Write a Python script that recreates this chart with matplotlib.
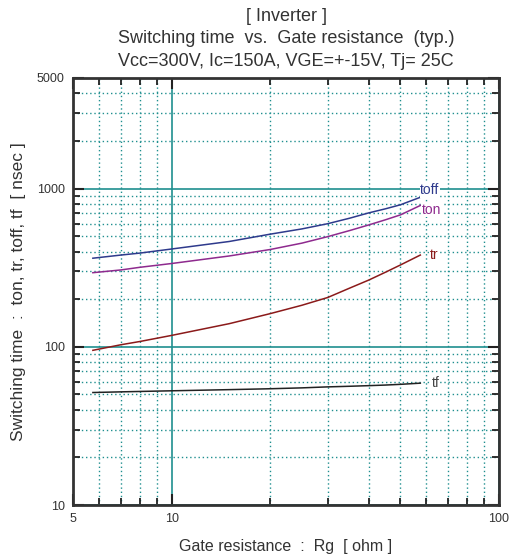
import matplotlib
matplotlib.use("Agg")
import matplotlib.pyplot as plt
from matplotlib.ticker import LogLocator, NullFormatter, FixedLocator, FixedFormatter

plt.rcParams['font.family'] = ['Liberation Sans', 'DejaVu Sans']

# gate resistance [ohm]
rg = [5.75, 7, 8, 10, 15, 20, 25, 30, 35, 40, 45, 50, 57.5]
# switching times [nsec]
toff = [363, 380, 391, 415, 463, 515, 556, 600, 650, 702, 745, 790, 881]
ton = [294, 306, 318, 336, 375, 412, 452, 497, 543, 589, 635, 682, 782]
tr = [95, 103, 108, 118, 140, 162, 183, 205, 235, 264, 296, 329, 380]
tf = [51.4, 51.9, 52.2, 52.7, 53.6, 54.3, 55.0, 55.8, 56.3, 56.8, 57.3, 57.9, 58.9]

series = [
    ("toff", toff, "#2e3a8c", (0, 5)),
    ("ton", ton, "#8e2a8e", (1, -3)),
    ("tr", tr, "#8b1a1a", (7, 0)),
    ("tf", tf, "#222222", (8, 0)),
]
label_colors = {"toff": "#2e3a8c", "ton": "#8e2a8e", "tr": "#8b1a1a", "tf": "#444444"}

fig = plt.figure(figsize=(5.1, 5.56), dpi=100)
ax = fig.add_axes([73 / 510, 1 - 505 / 556, 426 / 510, 427 / 556])
ax.set_xscale("log")
ax.set_yscale("log")
ax.set_xlim(5, 100)
ax.set_ylim(10, 5000)

teal = "#1f8f8f"
ax.xaxis.set_major_locator(FixedLocator([5, 10, 100]))
ax.xaxis.set_major_formatter(FixedFormatter(["5", "10", "100"]))
ax.xaxis.set_minor_locator(LogLocator(base=10, subs=range(2, 10)))
ax.xaxis.set_minor_formatter(NullFormatter())
ax.yaxis.set_major_locator(FixedLocator([10, 100, 1000, 5000]))
ax.yaxis.set_major_formatter(FixedFormatter(["10", "100", "1000", "5000"]))
ax.yaxis.set_minor_locator(LogLocator(base=10, subs=range(2, 10)))
ax.yaxis.set_minor_formatter(NullFormatter())

ax.grid(which="minor", color=teal, linestyle=(0, (1, 2)), linewidth=1.0)
ax.grid(which="major", color=teal, linestyle="-", linewidth=1.2)
ax.set_axisbelow(True)

ax.tick_params(which="both", direction="in", top=True, right=True,
               color="#222222", labelsize=9, labelcolor="#333333")
ax.tick_params(which="major", length=8, width=1.5, pad=6)
ax.tick_params(which="minor", length=5, width=1.3)
for sp in ax.spines.values():
    sp.set_linewidth(2)
    sp.set_color("#333333")

for name, vals, color, off in series:
    ax.plot(rg, vals, color=color, linewidth=1.1)
    ax.annotate(name, xy=(rg[-1], vals[-1]), xytext=off, textcoords="offset points",
                ha="left", va="center", fontsize=10, color=label_colors[name],
                bbox=dict(facecolor="white", edgecolor="none", pad=0.5))

ax.set_xlabel("Gate resistance  :  Rg  [ ohm ]", fontsize=11.5, color="#333333", labelpad=10)
ax.set_ylabel("Switching time  :  ton, tr, toff, tf  [ nsec ]", fontsize=12.5, color="#333333",
              labelpad=8)
ax.set_title("[ Inverter ]\nSwitching time  vs.  Gate resistance  (typ.)\n"
             "Vcc=300V, Ic=150A, VGE=+-15V, Tj= 25C",
             fontsize=13, color="#333333", linespacing=1.42, pad=9)

fig.savefig("out.png", dpi=100)
